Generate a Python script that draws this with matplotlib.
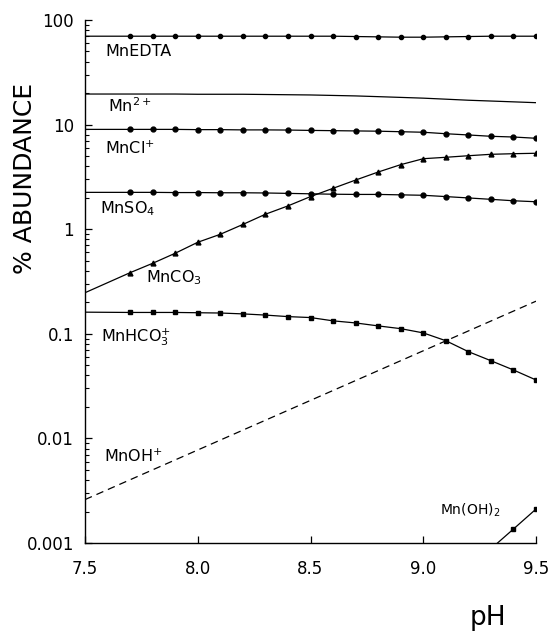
import numpy as np
import matplotlib
matplotlib.use("Agg")
import matplotlib.pyplot as plt
from matplotlib.ticker import LogLocator, FixedLocator, FixedFormatter, NullFormatter

plt.rcParams['font.family'] = ['DejaVu Sans']

# ---- data ----
ph_pts = [7.7, 7.8, 7.9, 8.0, 8.1, 8.2, 8.3, 8.4, 8.5, 8.6, 8.7, 8.8, 8.9, 9.0, 9.1, 9.2, 9.3, 9.4, 9.5]
ph_line = [7.5] + ph_pts

mnedta = [70, 70, 70, 70, 70, 70, 70, 70, 70, 70, 70, 69.5, 69, 68.5, 68.5, 69, 69.5, 70, 70, 70]
mn2 = [19.6, 19.6, 19.6, 19.6, 19.5, 19.5, 19.5, 19.4, 19.3, 19.2, 19.0, 18.8, 18.5, 18.2, 17.9, 17.5, 17.1, 16.8, 16.5, 16.2]
mncl = [9.0, 9.0, 9.0, 9.0, 8.95, 8.95, 8.9, 8.9, 8.87, 8.8, 8.75, 8.7, 8.65, 8.55, 8.45, 8.18, 7.96, 7.73, 7.61, 7.4]
mnso4 = [2.25, 2.25, 2.25, 2.24, 2.24, 2.23, 2.23, 2.22, 2.20, 2.18, 2.16, 2.15, 2.15, 2.13, 2.11, 2.05, 1.99, 1.93, 1.87, 1.83]
mnco3 = [0.247, 0.384, 0.472, 0.589, 0.750, 0.894, 1.11, 1.39, 1.67, 2.05, 2.46, 2.95, 3.52, 4.14, 4.72, 4.87, 5.04, 5.20, 5.27, 5.32]
mnhco3 = [0.161, 0.160, 0.160, 0.160, 0.159, 0.158, 0.155, 0.151, 0.146, 0.143, 0.133, 0.127, 0.119, 0.112, 0.102, 0.0859, 0.0675, 0.0553, 0.0451, 0.0362]
mnoh_ph = [7.5, 9.5]
mnoh = [0.0026, 0.205]
mnoh2_ph = [9.3, 9.4, 9.5]
mnoh2 = [0.00088, 0.00136, 0.00211]

x_ticks = [7.5, 8.0, 8.5, 9.0, 9.5]
x_labels = ["7.5", "8.0", "8.5", "9.0", "9.5"]
y_ticks = [0.001, 0.01, 0.1, 1, 10, 100]
y_labels = ["0.001", "0.01", "0.1", "1", "10", "100"]

# ---- figure ----
fig = plt.figure(figsize=(5.53, 6.33), dpi=100)
ax = fig.add_axes([85/553, 1-543/633, (536-85)/553, (543-20)/633])
ax.set_yscale('log')
ax.set_xlim(7.5, 9.5)
ax.set_ylim(0.001, 100)

lw = 0.9
c = 'black'
def series(y, marker, ms):
    ax.plot(ph_line, y, color=c, lw=lw)
    ax.plot(ph_pts, y[1:], linestyle='none', marker=marker, ms=ms, color=c)

series(mnedta, 'o', 3.0)
ax.plot(ph_line, mn2, color=c, lw=lw)
series(mncl, 'o', 3.5)
series(mnso4, 'o', 3.5)
series(mnco3, '^', 3.5)
series(mnhco3, 's', 3.0)
ax.plot(mnoh_ph, mnoh, color=c, lw=lw, linestyle=(0, (6, 4)))
ax.plot(mnoh2_ph, mnoh2, color=c, lw=lw, marker='s', ms=3.0)

for s in ['top', 'right']:
    ax.spines[s].set_visible(False)
for s in ['left', 'bottom']:
    ax.spines[s].set_linewidth(1.0)

ax.xaxis.set_major_locator(FixedLocator(x_ticks))
ax.xaxis.set_major_formatter(FixedFormatter(x_labels))
ax.yaxis.set_major_locator(FixedLocator(y_ticks))
ax.yaxis.set_major_formatter(FixedFormatter(y_labels))
ax.yaxis.set_minor_locator(LogLocator(base=10, subs=np.arange(2, 10)))
ax.yaxis.set_minor_formatter(NullFormatter())
ax.tick_params(axis='both', which='major', direction='in', length=5, width=0.9, labelsize=12)
ax.tick_params(axis='y', which='minor', direction='in', length=3, width=0.8)
ax.tick_params(axis='x', pad=12)
ax.tick_params(axis='y', pad=8)

fig.text(25/553, 1-178/633, "% ABUNDANCE", rotation=90, ha='center', va='center', fontsize=18)
fig.text(488/553, 1-618/633, "pH", ha='center', va='center', fontsize=19)

def px2data(px, py):
    return 7.5 + (px-85)/225.5, 10**(2-(py-20)/104.6)

fs = 11.5
labels = [
    (105, 52, r"MnEDTA"),
    (108, 106, r"Mn$^{2+}$"),
    (105, 148, r"MnCl$^{+}$"),
    (100, 209, r"MnSO$_{4}$"),
    (146, 278, r"MnCO$_{3}$"),
    (101, 337, r"MnHCO$_{3}^{+}$"),
    (104, 456, r"MnOH$^{+}$"),
]
for px, py, t in labels:
    x, y = px2data(px, py)
    ax.text(x, y, t, ha='left', va='center', fontsize=fs)
x, y = px2data(440, 510)
ax.text(x, y, r"Mn(OH)$_{2}$", ha='left', va='center', fontsize=10)

fig.savefig("out.png", dpi=100)
